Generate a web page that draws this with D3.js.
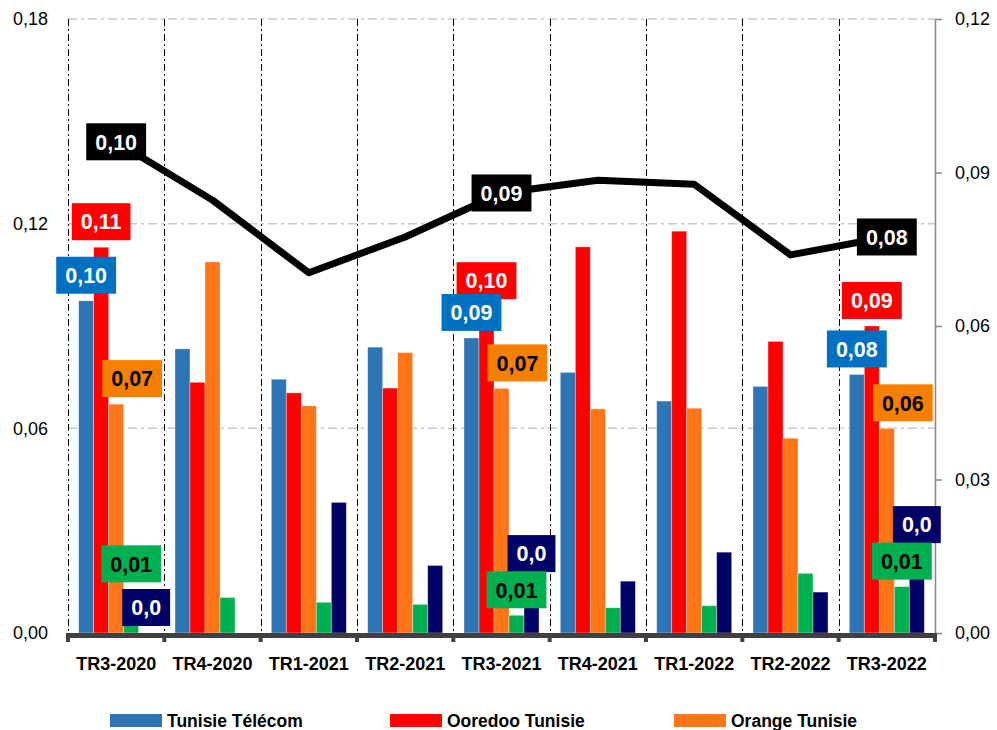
<!DOCTYPE html>
<html>
<head>
<meta charset="utf-8">
<script src="https://cdn.jsdelivr.net/npm/d3@7"></script>
<style>
  body { margin: 0; background: #fff; }
  svg { display: block; font-family: "Liberation Sans", Arial, sans-serif; }
</style>
</head>
<body>
<div id="chart"></div>
<script>
// data
const categories = ["TR3-2020", "TR4-2020", "TR1-2021", "TR2-2021", "TR3-2021", "TR4-2021", "TR1-2022", "TR2-2022", "TR3-2022"]
const tunisieTelecom = [0.0974, 0.0833, 0.0744, 0.0838, 0.0865, 0.0764, 0.0680, 0.0723, 0.0758]
const ooredooTunisie = [0.1131, 0.0735, 0.0704, 0.0718, 0.0958, 0.1132, 0.1178, 0.0855, 0.0900]
const orangeTunisie = [0.0671, 0.1088, 0.0666, 0.0822, 0.0717, 0.0657, 0.0659, 0.0571, 0.0600]
const operateur4 = [0.0128, 0.0104, 0.0090, 0.0084, 0.0052, 0.0074, 0.0080, 0.0175, 0.0136]
const operateur5 = [0.0000, 0.0000, 0.0383, 0.0198, 0.0158, 0.0152, 0.0237, 0.0120, 0.0243]
const moyenne = [0.0960, 0.0846, 0.0704, 0.0774, 0.0860, 0.0885, 0.0877, 0.0739, 0.0774]

const leftTicks = [0, 0.06, 0.12, 0.18]
const rightTicks = [0, 0.03, 0.06, 0.09, 0.12]
const labelledIdx = [0, 4, 8]

const W = 997, H = 730
const PLOT = { LEFT: 68, RIGHT: 935, TOP: 19, BOTTOM: 633 }

const series = [
	{ key: "tt", name: "Tunisie Télécom", values: tunisieTelecom, color: "#2E75B6", box: "#0070C0", ink: "#fff", digits: 2, dx: 0 },
	{ key: "oo", name: "Ooredoo Tunisie", values: ooredooTunisie, color: "#FF0000", box: "#FF0000", ink: "#fff", digits: 2, dx: 0 },
	{ key: "or", name: "Orange Tunisie", values: orangeTunisie, color: "#FF7518", box: "#F57F00", ink: "#000", digits: 2, dx: 16 },
	{ key: "o4", name: null, values: operateur4, color: "#00B050", box: "#00B050", ink: "#000", digits: 2, dx: 0 },
	{ key: "o5", name: null, values: operateur5, color: "#000066", box: "#000066", ink: "#fff", digits: 1, dx: 0 }
]

const fmt = d => v => d3.format(`.${d}f`)(v).replace(".", ",")

const svg = d3.select("#chart")
	.append("svg")
		.attr("width", W)
		.attr("height", H)

const x = d3.scaleBand()
	.domain(categories)
	.range([PLOT.LEFT, PLOT.RIGHT])

const xs = d3.scaleBand()
	.domain(series.map(s => s.key))
	.range([0, x.bandwidth()])
	.paddingOuter(0.71)

const yL = d3.scaleLinear().domain([0, 0.18]).range([PLOT.BOTTOM, PLOT.TOP])
const yR = d3.scaleLinear().domain([0, 0.12]).range([PLOT.BOTTOM, PLOT.TOP])

// horizontal grid (gray dash-dot)
svg.append("g")
	.selectAll("line")
	.data(leftTicks.filter(t => t > 0))
	.enter().append("line")
		.attr("x1", PLOT.LEFT)
		.attr("x2", PLOT.RIGHT)
		.attr("y1", d => yL(d))
		.attr("y2", d => yL(d))
		.attr("stroke", "#c8c8c8")
		.attr("stroke-width", 1.5)
		.attr("stroke-dasharray", "9,4,3,4")

// vertical grid (black dash-dot) at category boundaries
svg.append("g")
	.selectAll("line")
	.data(categories)
	.enter().append("line")
		.attr("x1", d => Math.round(x(d)) + 0.5)
		.attr("x2", d => Math.round(x(d)) + 0.5)
		.attr("y1", PLOT.TOP)
		.attr("y2", PLOT.BOTTOM)
		.attr("stroke", "#000")
		.attr("stroke-width", 1)
		.attr("stroke-dasharray", "7,3,2,3")

// bars
const groups = svg.append("g")
	.selectAll("g")
	.data(categories)
	.enter().append("g")
		.attr("transform", d => `translate(${x(d)},0)`)

groups.selectAll("rect")
	.data((c, i) => series.map(s => ({ s, v: s.values[i] })))
	.enter().append("rect")
		.attr("x", d => xs(d.s.key))
		.attr("width", xs.bandwidth())
		.attr("y", d => yL(d.v))
		.attr("height", d => PLOT.BOTTOM - yL(d.v))
		.attr("fill", d => d.s.color)
		.attr("stroke", "#fff")
		.attr("stroke-width", 0.8)
		.attr("stroke-opacity", 0.45)

// left axis
const yAxisL = svg.append("g")
	.attr("transform", `translate(${PLOT.LEFT},0)`)
	.call(d3.axisLeft(yL).tickValues(leftTicks).tickFormat(fmt(2)).tickSize(0).tickPadding(20))
yAxisL.select(".domain").remove()
yAxisL.selectAll("text")
	.attr("font-size", 18)
	.attr("font-family", "Liberation Sans, Arial, sans-serif")
	.attr("fill", "#000")

// right axis
const yAxisR = svg.append("g")
	.attr("transform", `translate(${PLOT.RIGHT},0)`)
	.call(d3.axisRight(yR).tickValues(rightTicks).tickFormat(fmt(2)).tickSize(7).tickSizeOuter(0).tickPadding(13))
yAxisR.select(".domain").attr("stroke", "#888").attr("stroke-width", 1.5)
yAxisR.selectAll(".tick line").attr("stroke", "#888").attr("stroke-width", 1.5)
yAxisR.selectAll("text")
	.attr("font-size", 18)
	.attr("font-family", "Liberation Sans, Arial, sans-serif")
	.attr("fill", "#000")

// bottom axis: thick line + ticks between categories
const xAxis = svg.append("g")
	.attr("transform", `translate(0,${PLOT.BOTTOM})`)
	.call(d3.axisBottom(x).tickSize(0).tickPadding(24))
xAxis.select(".domain").remove()
xAxis.selectAll("text")
	.attr("font-size", 18)
	.attr("font-weight", "bold")
	.attr("font-family", "Liberation Sans, Arial, sans-serif")
	.attr("fill", "#000")

svg.append("line")
	.attr("x1", PLOT.LEFT - 2)
	.attr("x2", PLOT.RIGHT + 2)
	.attr("y1", PLOT.BOTTOM + 2.5)
	.attr("y2", PLOT.BOTTOM + 2.5)
	.attr("stroke", "#404040")
	.attr("stroke-width", 5)

svg.append("g")
	.selectAll("rect")
	.data(categories.map(c => x(c)).concat([PLOT.RIGHT]))
	.enter().append("rect")
		.attr("x", d => d - 2)
		.attr("y", PLOT.BOTTOM)
		.attr("width", 4)
		.attr("height", 9)
		.attr("fill", "#404040")

// line on right axis
const cx = c => x(c) + x.bandwidth() / 2
const line = d3.line()
	.x((d, i) => cx(categories[i]))
	.y(d => yR(d))

svg.append("path")
	.datum(moyenne)
	.attr("d", line)
	.attr("fill", "none")
	.attr("stroke", "#000")
	.attr("stroke-width", 7)
	.attr("stroke-linejoin", "round")

// data labels
const labelLayer = svg.append("g")

function addLabel(px, py, txt, fill, ink, anchorBottom) {
	const g = labelLayer.append("g")
	const t = g.append("text")
		.attr("font-size", 21.5)
		.attr("font-weight", "bold")
		.attr("font-family", "Liberation Sans, Arial, sans-serif")
		.attr("text-anchor", "middle")
		.attr("fill", ink)
		.text(txt)
	const w = t.node().getComputedTextLength() + 18
	const h = 37
	const cy = anchorBottom ? py - h / 2 : py
	g.insert("rect", "text")
		.attr("x", px - w / 2)
		.attr("y", cy - h / 2)
		.attr("width", w)
		.attr("height", h)
		.attr("fill", fill)
	t.attr("x", px).attr("y", cy).attr("dy", "0.36em")
}

series.slice().reverse().forEach(s => {
	labelledIdx.forEach(i => {
		const c = categories[i]
		const px = x(c) + xs(s.key) + xs.bandwidth() / 2 + s.dx
		addLabel(px, yL(s.values[i]) - 7, fmt(s.digits)(s.values[i]), s.box, s.ink, true)
	})
})

labelledIdx.forEach(i => {
	addLabel(cx(categories[i]), yR(moyenne[i]), fmt(2)(moyenne[i]), "#000", "#fff", false)
})

// legend (only first row fits in the picture)
const legendX = [110, 390, 674]
const legend = svg.append("g")
	.selectAll("g")
	.data(series.filter(s => s.name))
	.enter().append("g")
		.attr("transform", (d, i) => `translate(${legendX[i]},714)`)

legend.append("rect")
	.attr("width", 52)
	.attr("height", 13)
	.attr("fill", d => d.color)

legend.append("text")
	.attr("x", 57)
	.attr("y", 6.5)
	.attr("dy", "0.36em")
	.attr("font-size", 17.5)
	.attr("font-weight", "bold")
	.attr("fill", "#000")
	.text(d => d.name)
</script>
</body>
</html>
